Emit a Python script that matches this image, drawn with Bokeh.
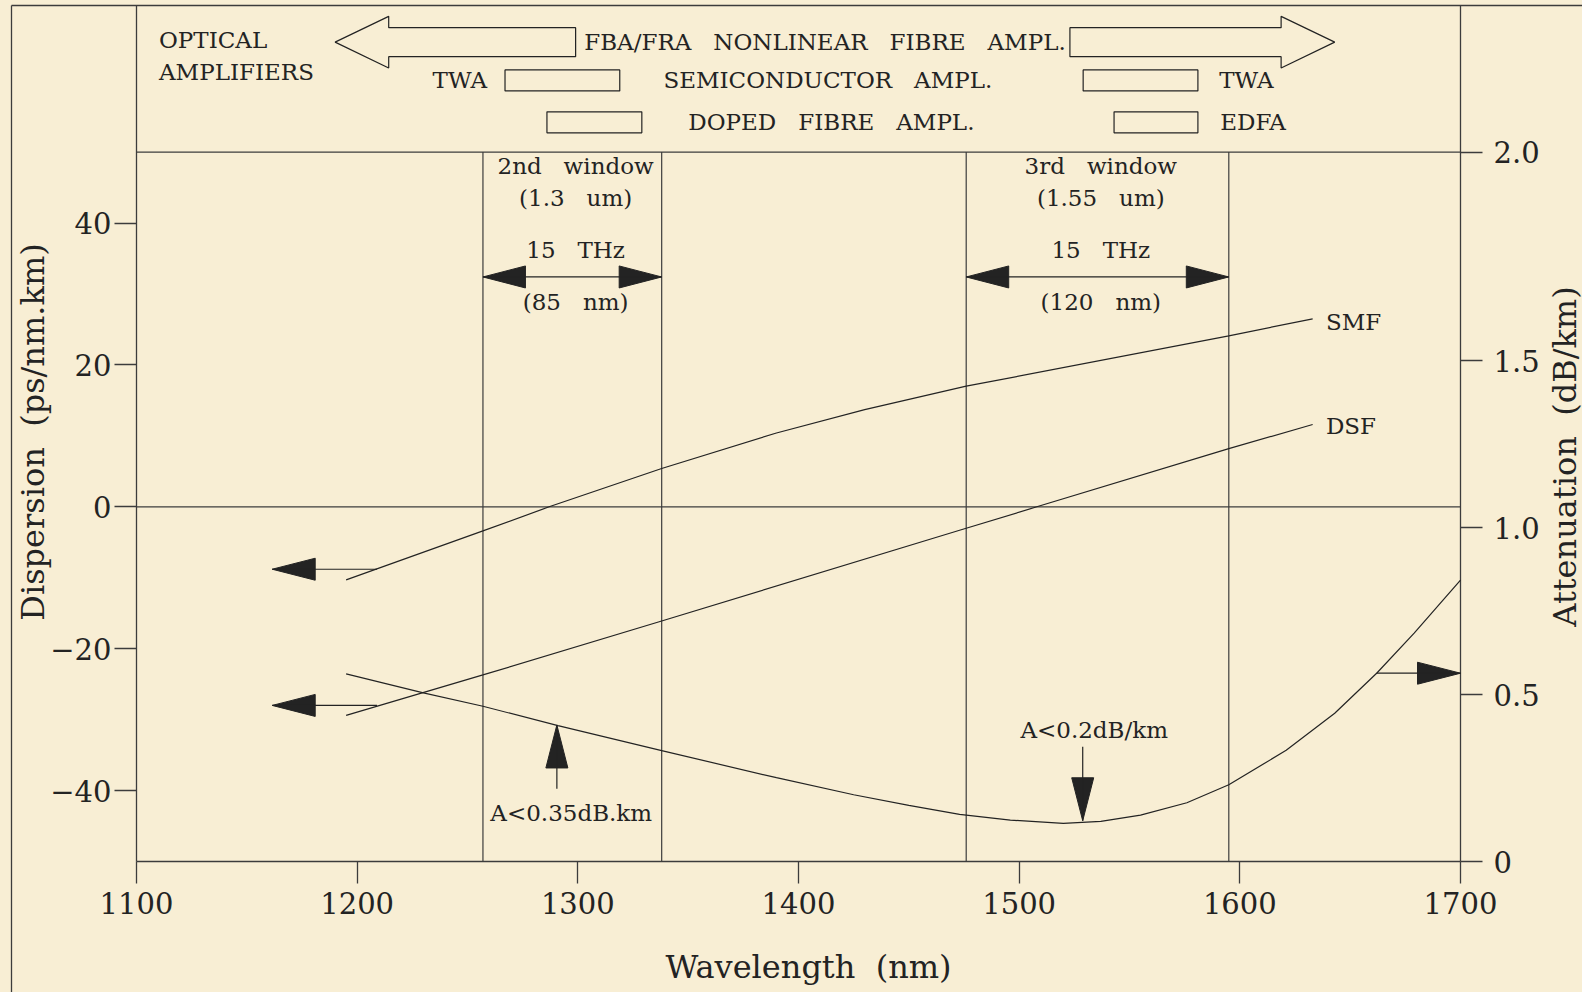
import numpy as np
from bokeh.plotting import figure
from bokeh.models import Range1d, FixedTicker, LinearAxis
from bokeh.core.properties import value
from bokeh.embed import file_html
from bokeh.resources import INLINE

# ---------------- data ----------------
wavelength_ticks = [1100, 1200, 1300, 1400, 1500, 1600, 1700]
dispersion_ticks = [-40, -20, 0, 20, 40]
attenuation_ticks = [0, 0.5, 1.0, 1.5]
attenuation_tick_labels = ["0", "0.5", "1.0", "1.5"]
attenuation_top_label = "2.0"

x_title = "Wavelength\u00a0 (nm)"
y_title = "Dispersion\u00a0 (ps/nm.km)"
y2_title = "Attenuation\u00a0 (dB/km)"

smf_wl = [1195, 1257, 1287, 1338, 1390, 1430, 1476, 1595, 1633]
smf_disp = [-10.3, -3.4, 0.0, 5.4, 10.4, 13.7, 17.0, 24.1, 26.5]

dsf_wl = [1195, 1257, 1338, 1473, 1508, 1595, 1633]
dsf_disp = [-29.4, -23.7, -16.1, -3.3, 0.0, 8.2, 11.6]

att_wl = [1195, 1230, 1257, 1291, 1338, 1390, 1425, 1450, 1473, 1496, 1520,
          1537, 1555, 1576, 1595, 1621, 1643, 1662, 1679, 1700]
att_db = [0.562, 0.505, 0.465, 0.407, 0.332, 0.251, 0.200, 0.168, 0.141, 0.124, 0.114,
          0.120, 0.139, 0.176, 0.230, 0.333, 0.444, 0.564, 0.684, 0.843]

# transmission windows (nm)
window_left = [1257, 1476]
window_right = [1338, 1595]
window_label_x = [1299, 1537]
S3 = "\u00a0\u00a0\u00a0"
window_titles = ["2nd" + S3 + "window", "3rd" + S3 + "window"]
window_bands = ["(1.3" + S3 + "um)", "(1.55" + S3 + "um)"]
window_thz = ["15" + S3 + "THz", "15" + S3 + "THz"]
window_nm = ["(85" + S3 + "nm)", "(120" + S3 + "nm)"]
window_text_y = [48.0, 43.6, 36.2, 28.9]
window_arrow_y = 32.4

# optical amplifier bands (nm)
nonlinear_arrows = [(1190, 1299), (1643, 1523)]   # (tip, tail)
twa_bands = [(1267, 1319), (1529, 1581)]
dfa_bands = [(1286, 1329), (1543, 1581)]
amp_rows_y = [65.5, 60.1, 54.2]

# curve labels and annotation arrows
curve_labels = ["SMF", "DSF"]
curve_label_x = [1639, 1639]
curve_label_y = [26.0, 11.4]
disp_arrow_tip_x = 1161.5
disp_arrow_tail_x = 1209.0
disp_arrow_y = [-8.8, -28.0]
att_arrow = (1662.0, 1700.0, 0.564)             # tail x, tip x, attenuation
att_notes = ["A<0.35dB.km", "A<0.2dB/km"]
att_note_x = [1297, 1534]
att_note_y = [-43.2, -31.5]                    # dispersion units
att_note_arrow_x = [1290.5, 1528.8]
att_note_arrow_tail = [0.218, 0.344]
att_note_arrow_tip = [0.409, 0.122]

# ---------------- layout (page pixels -> data) ----------------
W, H = 1582, 992
X0, X1 = 1100, 1700
Y0, Y_PANEL = -50, 50
PX_X = 1324 / (X1 - X0)            # pixels per nm
DISP_PX = 7.094                    # pixels per ps/nm.km
ATT_TOP_TICK = 2.125               # where the "2.0" label of the reference sits
ATT_PX = (Y_PANEL - Y0) * DISP_PX / ATT_TOP_TICK
LEFT_PX, BOTTOM_PX, TOP_PX, BORDER_PX = 136, 861, 5, 11


def X(px):
    return X0 + (px - LEFT_PX) / PX_X


def Y(py):
    return Y0 + (BOTTOM_PX - py) / DISP_PX


def A(py):
    return (BOTTOM_PX - py) / ATT_PX


BG = "#f8eed4"
INK = "#232323"
FRAME = "#3c3c3c"
FONT = "DejaVu Serif"

p = figure(width=W, height=H, x_range=Range1d(X(0), X(W)), y_range=Range1d(Y(H), Y(0)),
           output_backend="svg", toolbar_location=None,
           min_border_left=0, min_border_right=0, min_border_top=0, min_border_bottom=0,
           background_fill_color=BG, border_fill_color=BG, outline_line_color=None)
p.styles = {"background-color": BG}
p.extra_y_ranges = {"att": Range1d(A(H), A(0))}
p.grid.visible = False


def style_axis(ax, standoff):
    ax.axis_line_color = None
    ax.major_tick_out = 22
    ax.major_tick_in = 0
    ax.minor_tick_line_color = None
    ax.major_tick_line_color = FRAME
    ax.major_tick_line_width = 1.3
    ax.major_label_standoff = standoff
    ax.major_label_text_font = FONT
    ax.major_label_text_font_size = "29px"
    ax.major_label_text_color = INK


xa = p.xaxis[0]
xa.fixed_location = Y0
xa.ticker = FixedTicker(ticks=wavelength_ticks)
style_axis(xa, 8)

ya = p.yaxis[0]
ya.fixed_location = X0
ya.ticker = FixedTicker(ticks=dispersion_ticks)
ya.major_label_overrides = {t: ("\u2212" + str(-t)) if t < 0 else str(t) for t in dispersion_ticks}
style_axis(ya, 3)

ra = LinearAxis(y_range_name="att", fixed_location=X1,
                ticker=FixedTicker(ticks=attenuation_ticks + [ATT_TOP_TICK]))
overrides = dict(zip(attenuation_ticks, attenuation_tick_labels))
overrides[ATT_TOP_TICK] = attenuation_top_label
ra.major_label_overrides = overrides
style_axis(ra, 11)
p.add_layout(ra, "right")


def txt(xs, ys, texts, size, align="center", **kw):
    p.text(x=xs, y=ys, text=texts, text_font=value(FONT), text_font_size=size,
           text_align=align, text_baseline="middle", text_color=INK, **kw)


# axis titles
txt([X(808)], [Y(966.5)], [x_title], "32px")
txt([X(32.5)], [Y(431.5)], [y_title], "32px", angle=np.pi / 2)
txt([X(1564)], [Y(456)], [y2_title], "32px", angle=np.pi / 2)

# ---- frame of the graph and outer border of the drawing ----
y_top = Y(TOP_PX)
x_border = X(BORDER_PX)
p.segment(x0=[X0, X0, X0, X0, X1, x_border, x_border],
          y0=[Y0, Y0, 0, Y_PANEL, Y0, y_top, y_top],
          x1=[X0, X1, X1, X1, X1, X(W + 5), x_border],
          y1=[y_top, Y0, 0, Y_PANEL, y_top, y_top, Y(H + 5)],
          line_color=FRAME, line_width=1.3)
edges = window_left + window_right
p.segment(x0=edges, y0=[Y0] * 4, x1=edges, y1=[Y_PANEL] * 4, line_color=FRAME, line_width=1.2)

# ---- curves ----
p.line(smf_wl, smf_disp, line_color=INK, line_width=1.2)
p.line(dsf_wl, dsf_disp, line_color=INK, line_width=1.2)
p.line(att_wl, att_db, line_color=INK, line_width=1.2, y_range_name="att")


def head(tx, ty, direction, ypx, length=43.0, half=11.0):
    dx, dy = length / PX_X, length / ypx
    hx, hy = half / PX_X, half / ypx
    if direction == "left":
        return [tx, tx + dx, tx + dx], [ty, ty + hy, ty - hy]
    if direction == "right":
        return [tx, tx - dx, tx - dx], [ty, ty + hy, ty - hy]
    if direction == "up":
        return [tx, tx - hx, tx + hx], [ty, ty - dy, ty - dy]
    return [tx, tx - hx, tx + hx], [ty, ty + dy, ty + dy]


# heads in dispersion units
hx_d, hy_d = [], []
for y in disp_arrow_y:
    a, b = head(disp_arrow_tip_x, y, "left", DISP_PX)
    hx_d.append(a); hy_d.append(b)
for l, r in zip(window_left, window_right):
    a, b = head(l, window_arrow_y, "left", DISP_PX, 42.5, 11.0)
    hx_d.append(a); hy_d.append(b)
    a, b = head(r, window_arrow_y, "right", DISP_PX, 42.5, 11.0)
    hx_d.append(a); hy_d.append(b)
p.patches(hx_d, hy_d, fill_color=INK, line_color=INK, line_width=1)
p.segment(x0=[disp_arrow_tip_x] * 2, y0=disp_arrow_y, x1=[disp_arrow_tail_x] * 2, y1=disp_arrow_y,
          line_color=INK, line_width=1.2)
p.segment(x0=window_left, y0=[window_arrow_y] * 2, x1=window_right, y1=[window_arrow_y] * 2,
          line_color=INK, line_width=1.2)

# heads in attenuation units
hx_a, hy_a = [], []
a, b = head(att_arrow[1], att_arrow[2], "right", ATT_PX)
hx_a.append(a); hy_a.append(b)
for x, tail, tip in zip(att_note_arrow_x, att_note_arrow_tail, att_note_arrow_tip):
    a, b = head(x, tip, "up" if tip > tail else "down", ATT_PX, 43.0, 11.0)
    hx_a.append(a); hy_a.append(b)
p.patches(hx_a, hy_a, fill_color=INK, line_color=INK, line_width=1, y_range_name="att")
p.segment(x0=[att_arrow[0]], y0=[att_arrow[2]], x1=[att_arrow[1]], y1=[att_arrow[2]],
          line_color=INK, line_width=1.2, y_range_name="att")
p.segment(x0=att_note_arrow_x, y0=att_note_arrow_tail, x1=att_note_arrow_x, y1=att_note_arrow_tip,
          line_color=INK, line_width=1.2, y_range_name="att")

# window texts
for i, rows in enumerate([window_titles, window_bands, window_thz, window_nm]):
    txt(window_label_x, [window_text_y[i]] * 2, rows, "23px")

# curve labels and attenuation notes
txt(curve_label_x, curve_label_y, curve_labels, "23px", "left")
txt(att_note_x, att_note_y, att_notes, "23px")

# ---- optical amplifiers panel ----
ax_list, ay_list = [], []
for tip, tail in nonlinear_arrows:
    d = 1 if tail > tip else -1
    hb = tip + d * 53.6 / PX_X
    yc = amp_rows_y[0]
    hy, sy = 25.8 / DISP_PX, 14.5 / DISP_PX
    ax_list.append([tip, hb, hb, tail, tail, hb, hb])
    ay_list.append([yc, yc + hy, yc + sy, yc + sy, yc - sy, yc - sy, yc - hy])
p.patches(ax_list, ay_list, fill_color=None, line_color=INK, line_width=1.2)

bh = 10.5 / DISP_PX
for bands, yc in [(twa_bands, amp_rows_y[1]), (dfa_bands, amp_rows_y[2])]:
    p.quad(left=[b[0] for b in bands], right=[b[1] for b in bands],
           top=[yc + bh] * len(bands), bottom=[yc - bh] * len(bands),
           fill_color=None, line_color=INK, line_width=1.2)

txt([1110.2, 1110.2], [65.8, 61.3], ["OPTICAL", "AMPLIFIERS"], "23px", "left")
txt([1412], [amp_rows_y[0]], ["FBA/FRA\u00a0\u00a0 NONLINEAR\u00a0\u00a0 FIBRE\u00a0\u00a0 AMPL."], "23px")
txt([1246.5, 1413.3, 1603.0], [amp_rows_y[1]] * 3,
    ["TWA", "SEMICONDUCTOR\u00a0\u00a0 AMPL.", "TWA"], "23px")
txt([1414.9, 1606.0], [amp_rows_y[2]] * 2, ["DOPED\u00a0\u00a0 FIBRE\u00a0\u00a0 AMPL.", "EDFA"], "23px")

html = file_html(p, INLINE, title="Optical fibre windows")
open("out.html", "w").write(html)
